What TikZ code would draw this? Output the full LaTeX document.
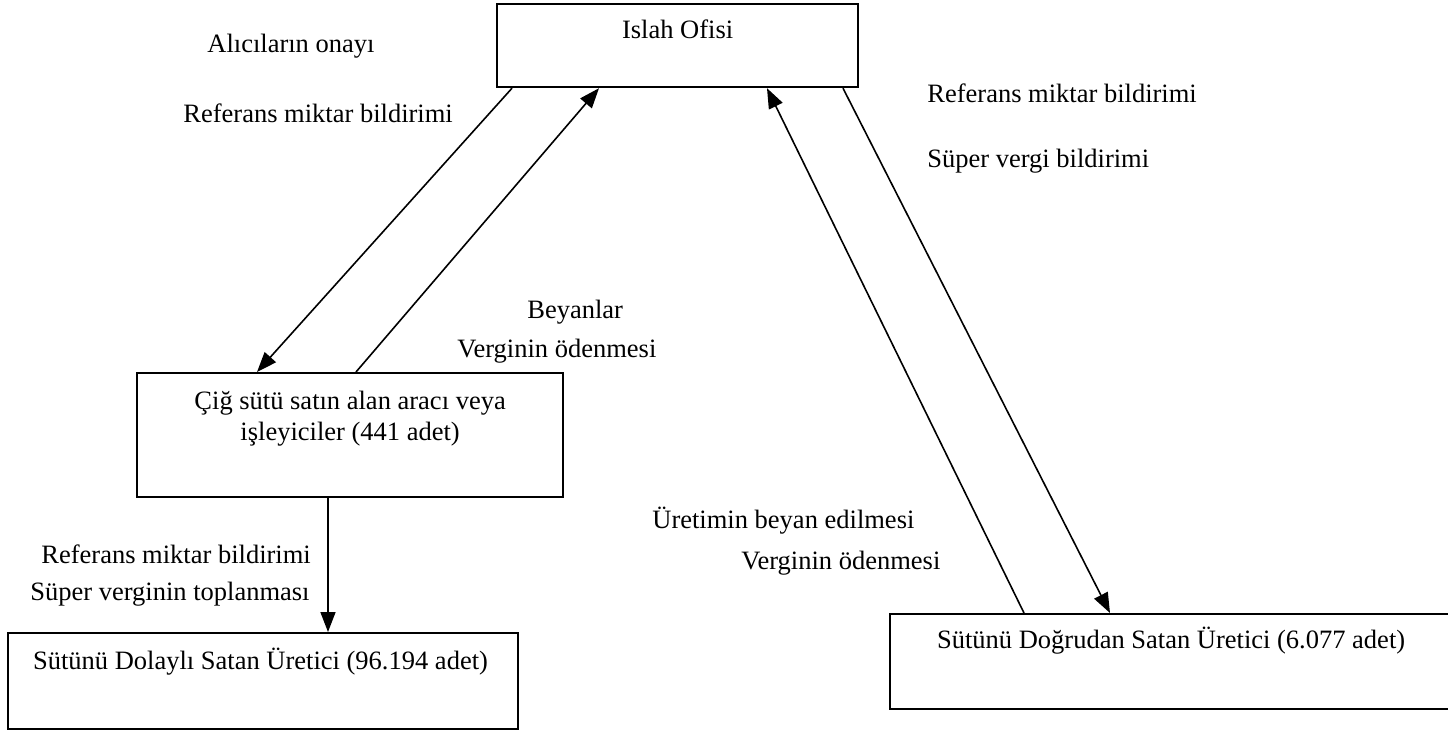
\documentclass[tikz,border=0pt]{standalone}
\usepackage{fontspec}
\setmainfont{Liberation Serif}
\usetikzlibrary{arrows.meta, calc}
\newcommand{\yazi}{\fontsize{13.25}{15.5}\selectfont}

\begin{document}
\begin{tikzpicture}[
  x=0.5pt, y=-0.5pt,
  kutu/.style={draw, line width=1.1pt, inner ysep=0pt, inner xsep=0pt, font=\yazi},
  ok/.style={-{Triangle[length=10pt, width=7.5pt]}, line width=0.8pt},
  etiket/.style={font=\yazi, anchor=base west, inner sep=0pt},
]
\useasboundingbox (0,0) rectangle (1448,734);

% ===== Boxes =====
\node[kutu, anchor=north west, minimum width=180.5pt,
  text height=17pt, text depth=24.5pt] (islah) at (496,3) {Islah Ofisi};
\node[kutu, anchor=north west, minimum width=213pt,
  text height=18pt, text depth=44pt] (cig) at (136,372)
  {\begin{tabular}[t]{@{}c@{}}Çiğ sütü satın alan aracı veya\\işleyiciler (441 adet)\end{tabular}};
\node[kutu, anchor=north west, inner xsep=12.5pt,
  text height=18pt, text depth=30pt] (dolayli) at (7,632)
  {\makebox[230pt][l]{Sütünü Dolaylı Satan Üretici (96.194 adet)}};
\node[kutu, anchor=north west, inner xsep=23.5pt,
  text height=17pt, text depth=30.5pt] (dogrudan) at (889,613)
  {\makebox[270pt][l]{Sütünü Doğrudan Satan Üretici (6.077 adet)}};

% ===== Arrows =====
\draw[ok] ($(islah.south west)+(16,0)$) -- ($(cig.north west)+(121,0)$);
\draw[ok] ($(cig.north west)+(220,0)$) -- ($(islah.south west)+(103,0)$);
\draw[ok] ($(dogrudan.north west)+(135,0)$) -- ($(islah.south west)+(271,0)$);
\draw[ok] ($(islah.south west)+(347,0)$) -- ($(dogrudan.north west)+(221,0)$);
\draw[ok] ($(cig.south west)+(192,0)$) -- ($(dolayli.north west)+(321,0)$);

% ===== Labels =====
\node[etiket] (l1) at (207,52) {Alıcıların onayı};
\node[etiket] (l2) at (183,122) {Referans miktar bildirimi};
\node[etiket] (l3) at (527,318) {Beyanlar};
\node[etiket] (l4) at (457,357) {Verginin ödenmesi};
\node[etiket] (r1) at (927,102) {Referans miktar bildirimi};
\node[etiket] (r2) at (927,167) {Süper vergi bildirimi};
\node[etiket] (r3) at (652,528) {Üretimin beyan edilmesi};
\node[etiket] (r4) at (741,569) {Verginin ödenmesi};
\node[etiket] (a1) at (41,563) {Referans miktar bildirimi};
\node[etiket] (a2) at (30,600) {Süper verginin toplanması};

\end{tikzpicture}
\end{document}
